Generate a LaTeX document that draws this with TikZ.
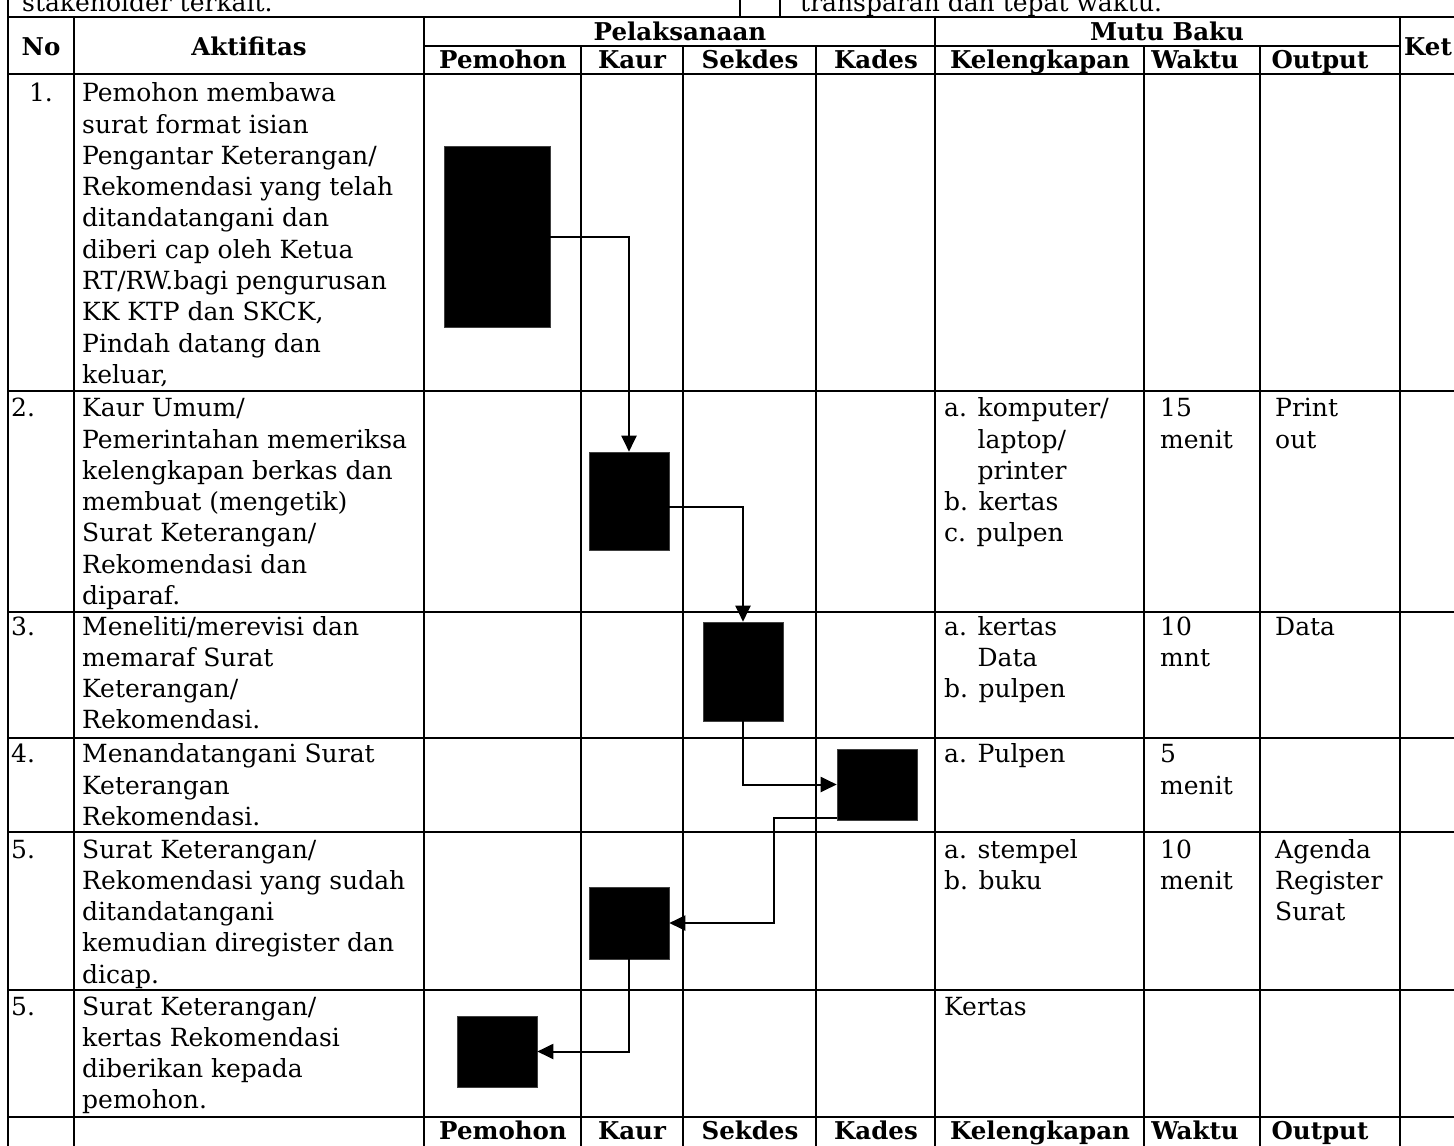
\documentclass[tikz,border=0pt]{standalone}
\usepackage{fontspec}
\setmainfont{DejaVu Serif}
\usetikzlibrary{arrows.meta}
\newcommand{\mlines}[1]{\begin{tabular}[t]{@{}l@{}}#1\end{tabular}}
\begin{document}
\begin{tikzpicture}[x=1pt,y=-1pt,
  grid/.style={line width=2.7pt},
  txt/.style={anchor=base west, inner sep=0pt, font=\fontsize{25}{31.3}\selectfont},
  num/.style={anchor=base west, inner sep=0pt, font=\fontsize{25}{31.3}\selectfont},
  hd/.style={anchor=base, inner sep=0pt, font=\fontsize{24.5}{30}\selectfont\bfseries},
  box/.style={fill=black, draw=black!75, line width=0.6pt, inner sep=0pt},
  arr/.style={line width=2pt, -{Triangle[length=16pt,width=15pt]}}]
\useasboundingbox (0,0) rectangle (1454,1146);
\clip (0,0) rectangle (1454,1146);
% ---------- grid ----------
\foreach \yy in {17,74,391,612,738,832,990,1117}
  \draw[grid] (8,\yy) -- (1470,\yy);
\draw[grid] (424,46) -- (1400,46);
\draw[grid] (8,-5) -- (8,1160);
\foreach \xx in {74,424,935,1400}
  \draw[grid] (\xx,17) -- (\xx,1160);
\foreach \xx in {581,683,816,1144,1260}
  \draw[grid] (\xx,46) -- (\xx,1160);
\draw[grid] (740,-5) -- (740,17);
\draw[grid] (780,-5) -- (780,17);
% ---------- top strip ----------
\node[txt] (topl) at (22,11) {stakeholder terkait.};
\node[txt] (topr) at (800,11) {transparan dan tepat waktu.};
% ---------- header ----------
\node[hd] (hNo) at (41,55) {No};
\node[hd] (hAkt) at (249,55) {Aktifitas};
\node[hd] (hPel) at (680,40) {Pelaksanaan};
\node[hd] (hMutu) at (1167,40) {Mutu Baku};
\node[hd] (hKet) at (1428,55) {Ket};
\node[hd] (hPem) at (503,68) {Pemohon};
\node[hd] (hKaur) at (632,68) {Kaur};
\node[hd] (hSek) at (750,68) {Sekdes};
\node[hd] (hKad) at (876,68) {Kades};
\node[hd] (hKel) at (1040,68) {Kelengkapan};
\node[hd] (hWak) at (1195,68) {Waktu};
\node[hd] (hOut) at (1320,68) {Output};
% ---------- bottom header ----------
\node[hd] (fPem) at (503,1139) {Pemohon};
\node[hd] (fKaur) at (632,1139) {Kaur};
\node[hd] (fSek) at (750,1139) {Sekdes};
\node[hd] (fKad) at (876,1139) {Kades};
\node[hd] (fKel) at (1040,1139) {Kelengkapan};
\node[hd] (fWak) at (1195,1139) {Waktu};
\node[hd] (fOut) at (1320,1139) {Output};
% ---------- row numbers ----------
\node[txt,anchor=base] (n1) at (41,101.7) {1.};
\node[num] (n2) at (11,416.7) {2.};
\node[num] (n3) at (11,635) {3.};
\node[num] (n4) at (11,762.7) {4.};
\node[num] (n5) at (11,858) {5.};
\node[num] (n6) at (11,1015) {5.};
% ---------- activities ----------
\node[txt] (a1) at (82,101.7) {\mlines{Pemohon membawa\\surat format isian\\Pengantar Keterangan/\\Rekomendasi yang telah\\ditandatangani dan\\diberi cap oleh Ketua\\RT/RW.bagi pengurusan\\KK KTP dan SKCK,\\Pindah datang dan\\keluar,}};
\node[txt] (a2) at (82,416.7) {\mlines{Kaur Umum/\\Pemerintahan memeriksa\\kelengkapan berkas dan\\membuat (mengetik)\\Surat Keterangan/\\Rekomendasi dan\\diparaf.}};
\node[txt] (a3) at (82,635) {\mlines{Meneliti/merevisi dan\\memaraf Surat\\Keterangan/\\Rekomendasi.}};
\node[txt] (a4) at (82,762.7) {\mlines{Menandatangani Surat\\Keterangan\\Rekomendasi.}};
\node[txt] (a5) at (82,858) {\mlines{Surat Keterangan/\\Rekomendasi yang sudah\\ditandatangani\\kemudian diregister dan\\dicap.}};
\node[txt] (a6) at (82,1015) {\mlines{Surat Keterangan/\\kertas Rekomendasi\\diberikan kepada\\pemohon.}};
% ---------- mutu baku ----------
\node[txt] (k2) at (944,416.7) {\mlines{a. komputer/\\\hphantom{a. }laptop/\\\hphantom{a. }printer\\b. kertas\\c. pulpen}};
\node[txt] (w2) at (1160,416.7) {\mlines{15\\menit}};
\node[txt] (o2) at (1275,416.7) {\mlines{Print\\out}};
\node[txt] (k3) at (944,635) {\mlines{a. kertas\\\hphantom{a. }Data\\b. pulpen}};
\node[txt] (w3) at (1160,635) {\mlines{10\\mnt}};
\node[txt] (o3) at (1275,635) {Data};
\node[txt] (k4) at (944,762.7) {a. Pulpen};
\node[txt] (w4) at (1160,762.7) {\mlines{5\\menit}};
\node[txt] (k5) at (944,858) {\mlines{a. stempel\\b. buku}};
\node[txt] (w5) at (1160,858) {\mlines{10\\menit}};
\node[txt] (o5) at (1275,858) {\mlines{Agenda\\Register\\Surat}};
\node[txt] (k6) at (944,1015) {Kertas};
% ---------- flow boxes ----------
\node[box, minimum width=106pt, minimum height=181pt] (b1) at (497,236.5) {};
\node[box, minimum width=80pt, minimum height=98pt] (b2) at (629,501) {};
\node[box, minimum width=80pt, minimum height=99pt] (b3) at (743,671.5) {};
\node[box, minimum width=80pt, minimum height=71pt] (b4) at (877,784.5) {};
\node[box, minimum width=80pt, minimum height=72pt] (b5) at (629,923) {};
\node[box, minimum width=80pt, minimum height=71pt] (b6) at (497,1051.5) {};
% ---------- connectors ----------
\draw[arr] (b1.east) -| (b2.north);
\draw[arr] ([yshift=-6pt]b2.east) -| (b3.north);
\draw[arr] (b3.south) |- (b4.west);
\draw[arr] ([yshift=2pt]b4.south west) -- ++(-63,0) |- (b5.east);
\draw[arr] (b5.south) |- (b6.east);
\end{tikzpicture}
\end{document}
